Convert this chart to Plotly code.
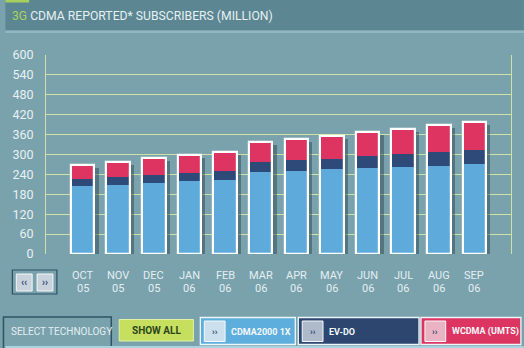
import plotly.graph_objects as go

# Monthly 3G CDMA subscribers (millions), by technology
months = ["OCT", "NOV", "DEC", "JAN", "FEB", "MAR", "APR", "MAY", "JUN", "JUL", "AUG", "SEP"]
years = ["05", "05", "05", "06", "06", "06", "06", "06", "06", "06", "06", "06"]
cdma2000_1x = [204, 209, 214, 219, 224, 247, 251, 255, 259, 263, 266, 270]
ev_do = [22, 23, 25, 26, 27, 30, 31, 32, 35, 39, 43, 44]
wcdma_umts = [42, 46, 50, 54, 57, 61, 65, 70, 73, 75, 79, 84]
y_ticks = [0, 60, 120, 180, 240, 300, 360, 420, 480, 540, 600]

W, H = 524, 348
L, R, T, B = 41, 511, 55, 254  # plot area in pixels

BG = "#79a2ad"
FONT = "Roboto, Liberation Sans, sans-serif"

xs = list(range(len(months)))
base_evdo = cdma2000_1x
base_wcdma = [a + b for a, b in zip(cdma2000_1x, ev_do)]
totals = [a + b for a, b in zip(base_wcdma, wcdma_umts)]

BAR_W = 0.66
fig = go.Figure()

# soft drop shadow behind each column
fig.add_trace(go.Bar(x=xs, y=totals, base=[-9] * len(xs), width=BAR_W + 0.03,
                     offset=-BAR_W / 2 + 0.09,
                     marker=dict(color="rgba(40,62,72,0.45)", line=dict(width=0)),
                     hoverinfo="skip"))
fig.add_trace(go.Bar(x=xs, y=cdma2000_1x, base=[0] * len(xs), width=BAR_W, name="CDMA2000 1X",
                     marker=dict(color="#5eaadb", line=dict(width=0))))
fig.add_trace(go.Bar(x=xs, y=ev_do, base=base_evdo, width=BAR_W, name="EV-DO",
                     marker=dict(color="#2e4a78", line=dict(width=0))))
fig.add_trace(go.Bar(x=xs, y=wcdma_umts, base=base_wcdma, width=BAR_W, name="WCDMA (UMTS)",
                     marker=dict(color="#de3462", line=dict(width=0))))
# white frame round each whole column
fig.add_trace(go.Bar(x=xs, y=totals, base=[0] * len(xs), width=BAR_W,
                     marker=dict(color="rgba(0,0,0,0)", line=dict(color="white", width=2.2)),
                     hoverinfo="skip"))

span = (R - L) / 36.0
x0 = -(78 - L) / 36.0

fig.update_layout(
    width=W, height=H,
    margin=dict(l=L, r=W - R, t=T, b=H - B, pad=0),
    paper_bgcolor=BG, plot_bgcolor="rgba(0,0,0,0)",
    barmode="overlay", showlegend=False, bargap=0,
    font=dict(family=FONT, color="#e6f0f2"),
    xaxis=dict(range=[x0, x0 + span], showticklabels=False, showgrid=False,
               zeroline=False, showline=False, ticks="", fixedrange=True),
    yaxis=dict(range=[0, 600], tickvals=y_ticks, ticktext=[str(v) for v in y_ticks],
               showgrid=True, gridcolor="#cfe2a6", gridwidth=1,
               zeroline=False, showline=True, linecolor="#cfe2a6", linewidth=1,
               mirror=True, ticks="", ticklabelstandoff=9,
               tickfont=dict(family=FONT, size=12.5, color="#e8f1f3")),
)


def px(x):
    return (x - L) / (R - L)


def py(y):
    return (B - y) / (B - T)


shapes = []
annots = []


def rect(x1, y1, x2, y2, fill, line=None, lw=0, layer="above"):
    shapes.append(dict(type="rect", xref="paper", yref="paper",
                       x0=px(x1), x1=px(x2), y0=py(y2), y1=py(y1),
                       fillcolor=fill, layer=layer,
                       line=dict(color=line or fill, width=lw)))


def text(x, y, s, size, color, anchor="left", bold=False):
    if bold:
        s = "<b>" + s + "</b>"
    annots.append(dict(xref="paper", yref="paper", x=px(x), y=py(y), text=s,
                       showarrow=False, xanchor=anchor, yanchor="middle",
                       font=dict(family=FONT, size=size, color=color)))


# header band
rect(0, 0, W, 30.5, "#5c8692", layer="below")
rect(0, 30.5, W, 33, "#93b7c1", layer="below")
rect(0, 0, 24, 2.5, "#a8d05c", layer="below")
text(5, 16, "<span style='color:#a9d35e'>3G</span> CDMA REPORTED* SUBSCRIBERS (MILLION)",
     12.2, "#e4f0f3")

# month / year labels under each column
for i, (m, yv) in enumerate(zip(months, years)):
    annots.append(dict(xref="x", yref="paper", x=i, y=py(275.5), text=m, showarrow=False,
                       xanchor="center", yanchor="middle",
                       font=dict(family=FONT, size=11, color="#e4eef1")))
    annots.append(dict(xref="x", yref="paper", x=i, y=py(288.5), text=yv, showarrow=False,
                       xanchor="center", yanchor="middle",
                       font=dict(family=FONT, size=11, color="#e4eef1")))

# scroll buttons
rect(7, 270, 52, 294, "rgba(0,0,0,0)", "#2f4f66", 1.2)
rect(11, 274, 27, 291, "#c8d2dc", "#f4f8fa", 1)
rect(32, 274, 48, 291, "#c8d2dc", "#f4f8fa", 1)
text(19, 282.5, "<b>‹‹</b>", 10, "#2c4670", anchor="center")
text(40, 282.5, "<b>››</b>", 10, "#2c4670", anchor="center")

# technology selector bar
rect(-2, 317, 107, 352, "rgba(0,0,0,0)", "#2e5465", 1.5)
rect(0, 346, W, 348, "#a9d3df")
text(4, 331, "SELECT TECHNOLOGY", 10, "#e4eef1")

rect(115, 319.5, 190, 341, "#c7df5e", "#e2f1a6", 1)
text(152.5, 330.5, "SHOW ALL", 10, "#2c4620", anchor="center", bold=True)

buttons = [
    (197, 293, "#5eaedd", "#cbdfec", "CDMA2000 1X"),
    (296, 418, "#2c4670", "#aeb9c9", "EV-DO"),
    (420, 521, "#dd3561", "#eab3c4", "WCDMA (UMTS)"),
]
for bx1, bx2, fill, icon, label in buttons:
    rect(bx1, 317.5, bx2, 344.5, fill, "#eef6fa", 1.3)
    rect(bx1 + 4, 321, bx1 + 25, 341.5, icon, "#f5f9fb", 1)
    text(bx1 + 14.5, 331.5, "<b>››</b>", 9, "#2c4670", anchor="center")
    text(bx1 + 29, 331.5, label, 9, "#f4f8fa", bold=True)

fig.update_layout(shapes=shapes, annotations=annots)
fig.write_html("out.html")
